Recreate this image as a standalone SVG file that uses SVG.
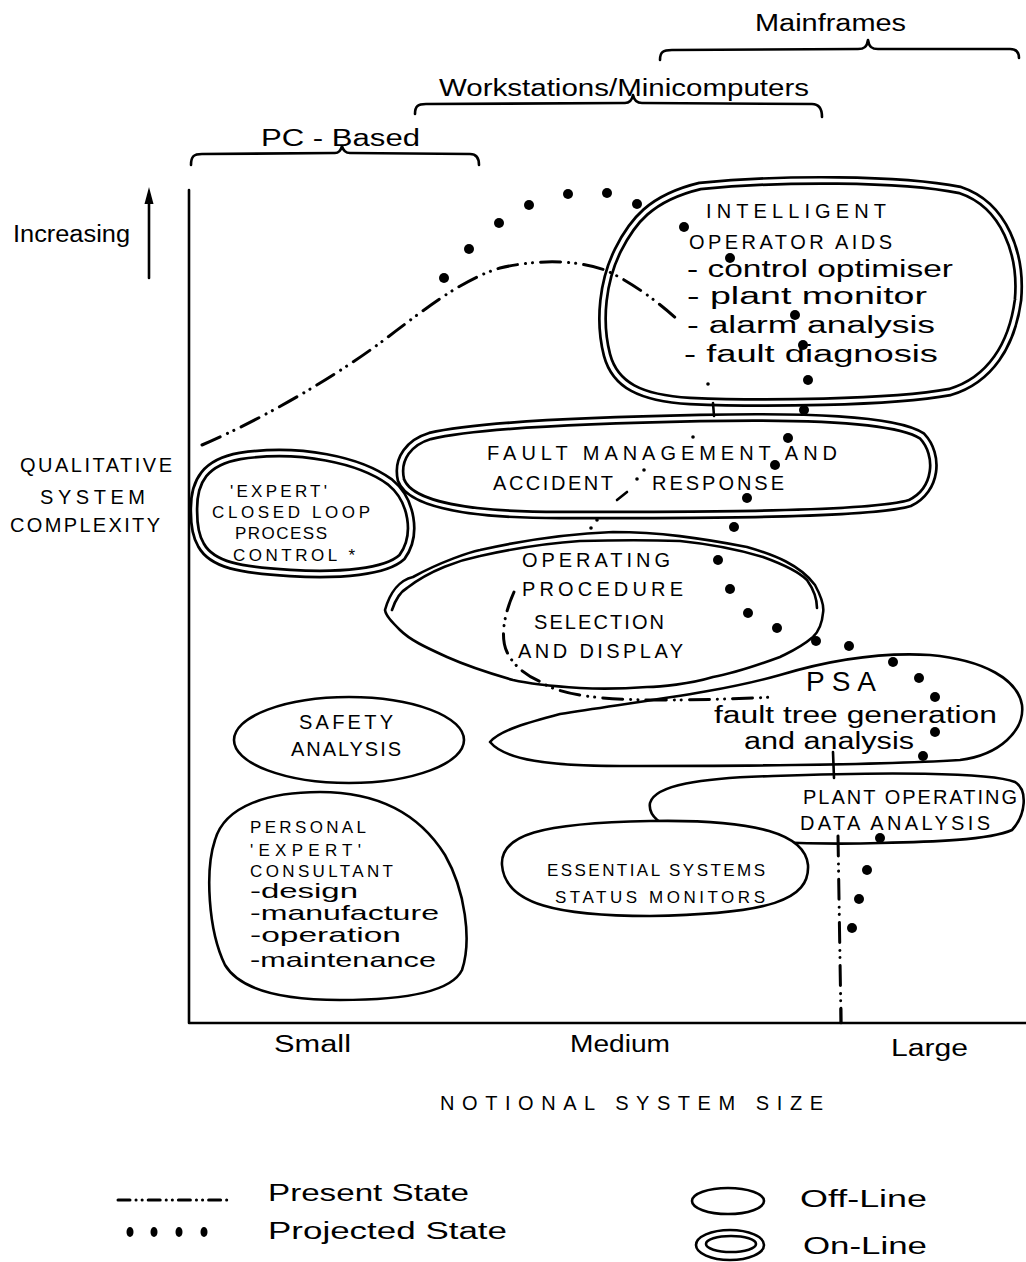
<svg xmlns="http://www.w3.org/2000/svg" xmlns:xlink="http://www.w3.org/1999/xlink" width="1026" height="1262" viewBox="0 0 1026 1262">
<style>
.ln{fill:none;stroke:#000;stroke-width:2.6;stroke-linecap:round;stroke-linejoin:round}
.blob{fill:#fff;stroke:#000;stroke-width:2.6;stroke-linejoin:round}
.dblo{fill:#fff;stroke:#000;stroke-width:9;stroke-linejoin:round}
.dbli{fill:none;stroke:#fff;stroke-width:3.6;stroke-linejoin:round}
.pres{fill:none;stroke:#000;stroke-width:3;stroke-linecap:round;stroke-dasharray:20 8 0.1 7 0.1 8}
.dot{fill:#000}
text{font-family:"Liberation Sans",Arial,sans-serif;fill:#000}
.hand{font-size:23px}
.cap{font-size:20px}
.cs{font-size:17px}
.hs{font-size:21px}
</style>
<defs>
<path id="ioaP" d="M700,186 C780,178 900,178 960,190 C1005,205 1022,255 1018,300 C1012,345 990,380 950,392 C890,403 760,404 690,401 C640,398 615,385 607,355 C598,320 603,280 618,250 C632,222 650,198 700,186 Z"/>
<path id="fmP" d="M430,436 C480,424 600,420 700,418 C800,416 895,418 922,436 C940,455 937,490 910,503 C870,515 700,515 560,515 C470,515 410,505 401,480 C396,458 410,442 430,436 Z"/>
<path id="exP" d="M194,512 C193,480 206,462 240,456 C300,447 360,460 390,482 C412,500 418,535 402,557 C386,572 340,576 290,573 C240,570 212,565 201,545 C195,535 194,522 194,512 Z"/>
</defs>

<g id="axes">
<path class="ln" d="M189,190 L189,1023 L1026,1023"/>
<path class="ln" d="M841,1008 L841,1023"/>
<path class="ln" d="M149,278 L149,200"/>
<path class="dot" d="M149,187 L144.5,204 L153.5,204 Z"/>
<text class="hand" x="13" y="242" textLength="117" lengthAdjust="spacingAndGlyphs">Increasing</text>
<text class="cap" x="20" y="472" textLength="152">QUALITATIVE</text>
<text class="cap" x="40" y="504" textLength="105">SYSTEM</text>
<text class="cap" x="10" y="532" textLength="150">COMPLEXITY</text>
<text class="hand" x="274" y="1052" textLength="77" lengthAdjust="spacingAndGlyphs">Small</text>
<text class="hand" x="570" y="1052" textLength="100" lengthAdjust="spacingAndGlyphs">Medium</text>
<text class="hand" x="891" y="1056" textLength="77" lengthAdjust="spacingAndGlyphs">Large</text>
<text class="cap" x="440" y="1110" textLength="383">NOTIONAL SYSTEM SIZE</text>
</g>

<g id="brackets">
<path class="ln" d="M660,60 C660,52 663,50 672,50 L858,49 C864,49 867,47 868,40 C869,47 872,49 878,49 L1010,49 C1016,49 1019,52 1019,58"/>
<text class="hand" x="755" y="31" textLength="151" lengthAdjust="spacingAndGlyphs">Mainframes</text>
<path class="ln" d="M415,114 C415,106 418,104 426,104 L625,103 C630,103 632,100 633,95 C634,100 637,103 642,103 L812,104 C819,104 822,108 822,117"/>
<text class="hand" x="439" y="96" textLength="370" lengthAdjust="spacingAndGlyphs">Workstations/Minicomputers</text>
<path class="ln" d="M191,165 C191,156 194,154 202,154 L335,153 C339,153 341,150 342,146 C343,150 345,153 350,153 L470,154 C476,154 479,158 479,165"/>
<text class="hand" x="261" y="146" textLength="159" lengthAdjust="spacingAndGlyphs">PC - Based</text>
</g>

<g id="ioa">
<use xlink:href="#ioaP" class="dblo"/>
<use xlink:href="#ioaP" class="dbli"/>
<text class="cap" x="706" y="218" textLength="180">INTELLIGENT</text>
<text class="cap" x="689" y="249" textLength="203">OPERATOR AIDS</text>
<text class="hand" x="687" y="277" textLength="266" lengthAdjust="spacingAndGlyphs">- control optimiser</text>
<text class="hand" x="687" y="304" textLength="240" lengthAdjust="spacingAndGlyphs">- plant monitor</text>
<text class="hand" x="687" y="333" textLength="248" lengthAdjust="spacingAndGlyphs">- alarm analysis</text>
<text class="hand" x="684" y="362" textLength="254" lengthAdjust="spacingAndGlyphs">- fault diagnosis</text>
</g>

<g id="fault-management">
<use xlink:href="#fmP" class="dblo"/>
<use xlink:href="#fmP" class="dbli"/>
<text class="cap" x="487" y="460" textLength="350">FAULT MANAGEMENT AND</text>
<text class="cap" x="493" y="490" textLength="120">ACCIDENT</text>
<text class="cap" x="652" y="490" textLength="132">RESPONSE</text>
</g>

<g id="expert-closed-loop">
<use xlink:href="#exP" class="dblo"/>
<use xlink:href="#exP" class="dbli"/>
<text class="cs" x="230" y="497" textLength="97">'EXPERT'</text>
<text class="cs" x="212" y="518" textLength="158">CLOSED LOOP</text>
<text class="cs" x="235" y="539" textLength="92">PROCESS</text>
<text class="cs" x="233" y="561" textLength="122">CONTROL *</text>
</g>

<g id="operating-procedure">
<path class="blob" d="M385,610 C390,592 400,580 413,577 C440,562 470,552 480,550 C520,541 560,534 613,532 C660,532 700,538 747,547 C775,555 800,565 815,585 C822,598 824,608 823,613 C822,625 818,632 813,637 C800,648 790,652 780,657 C750,668 730,674 713,677 C690,684 660,687 647,687 C620,689 600,689 580,688 C550,686 530,684 513,680 C485,672 465,665 447,657 C425,647 410,640 400,630 C392,622 386,616 385,610 Z"/>
<path class="ln" d="M392,610 C396,598 400,592 407,588 C430,570 460,560 480,556 C520,547 550,543 580,541 C620,540 650,540 680,541 C710,544 740,550 763,557 C785,565 800,573 807,580 C814,590 817,600 817,608"/>
<text class="cap" x="522" y="567" textLength="148">OPERATING</text>
<text class="cap" x="522" y="596" textLength="161">PROCEDURE</text>
<text class="cap" x="534" y="629" textLength="130">SELECTION</text>
<text class="cap" x="518" y="658" textLength="165">AND DISPLAY</text>
</g>

<g id="psa">
<path class="blob" d="M490,742 C500,730 530,722 560,714 C650,700 720,692 780,675 C830,660 880,652 930,655 C985,660 1018,680 1022,705 C1025,730 1000,755 960,760 C880,765 750,766 620,766 C550,766 505,760 490,742 Z"/>
<text x="806" y="691" font-size="28" textLength="70">PSA</text>
<text class="hand" x="714" y="723" textLength="283" lengthAdjust="spacingAndGlyphs">fault tree generation</text>
<text class="hand" x="744" y="749" textLength="170" lengthAdjust="spacingAndGlyphs">and analysis</text>
</g>

<g id="plant-operating-data">
<path class="blob" d="M650,803 C655,785 700,778 773,776 C880,772 990,772 1015,782 C1028,790 1026,815 1012,830 C990,840 930,842 880,843 C820,845 720,842 680,832 C660,825 648,815 650,803 Z"/>
<text class="cap" x="803" y="804" textLength="214">PLANT OPERATING</text>
<text class="cap" x="800" y="830" textLength="190">DATA ANALYSIS</text>
</g>

<g id="safety-analysis">
<ellipse class="blob" cx="349" cy="740" rx="115" ry="43"/>
<text class="cap" x="299" y="729" textLength="94">SAFETY</text>
<text class="cap" x="291" y="756" textLength="110">ANALYSIS</text>
</g>

<g id="personal-expert">
<path class="blob" d="M215,840 C225,805 270,792 320,792 C380,792 420,815 445,855 C465,890 472,940 462,970 C450,995 390,1000 340,1000 C280,1000 240,990 225,965 C208,930 205,870 215,840 Z"/>
<text class="cs" x="250" y="833" textLength="116">PERSONAL</text>
<text class="cs" x="250" y="856" textLength="111">'EXPERT'</text>
<text class="cs" x="250" y="877" textLength="143">CONSULTANT</text>
<text class="hs" x="250" y="898" textLength="108" lengthAdjust="spacingAndGlyphs">-design</text>
<text class="hs" x="250" y="920" textLength="189" lengthAdjust="spacingAndGlyphs">-manufacture</text>
<text class="hs" x="250" y="942" textLength="151" lengthAdjust="spacingAndGlyphs">-operation</text>
<text class="hs" x="250" y="967" textLength="186" lengthAdjust="spacingAndGlyphs">-maintenance</text>
</g>

<g id="essential-systems">
<path class="blob" d="M502,865 C500,835 540,823 650,821 C760,819 805,835 808,865 C810,900 770,914 650,916 C560,916 505,905 502,865 Z"/>
<text class="cs" x="547" y="876" textLength="218">ESSENTIAL SYSTEMS</text>
<text class="cs" x="555" y="903" textLength="210">STATUS MONITORS</text>
</g>

<g id="connectors">
<path class="pres" d="M202,445 C260,420 330,380 380,343 C420,313 460,280 500,268 C530,261 570,258 605,270 C630,281 660,303 680,322"/>
<path class="ln" d="M713,403 L714,416 M617,500 L627,492"/>
<g class="dot">
<circle cx="708" cy="384" r="1.8"/>
<circle cx="693" cy="437" r="1.8"/>
<circle cx="644" cy="470" r="1.8"/>
<circle cx="637" cy="479" r="1.8"/>
<circle cx="597" cy="520" r="1.8"/>
<circle cx="591" cy="528" r="1.8"/>
</g>
<path class="pres" d="M514,592 C506,610 499,635 507,652 C513,665 525,675 541,682 C560,695 600,700 660,700 C720,700 750,698 775,697"/>
<path class="ln" d="M833,752 L834,778"/>
<path class="pres" d="M838,836 L841,1022"/>
<g class="dot">
<circle cx="444" cy="278" r="5"/>
<circle cx="469" cy="249" r="5"/>
<circle cx="499" cy="223" r="5"/>
<circle cx="529" cy="205" r="5"/>
<circle cx="568" cy="194" r="5"/>
<circle cx="607" cy="193" r="5"/>
<circle cx="637" cy="204" r="5"/>
<circle cx="684" cy="227" r="5"/>
<circle cx="730" cy="258" r="5"/>
<circle cx="795" cy="315" r="5"/>
<circle cx="803" cy="345" r="5"/>
<circle cx="808" cy="380" r="5"/>
<circle cx="804" cy="410" r="5"/>
<circle cx="788" cy="438" r="5"/>
<circle cx="775" cy="465" r="5"/>
<circle cx="747" cy="498" r="5"/>
<circle cx="734" cy="527" r="5"/>
<circle cx="718" cy="560" r="5"/>
<circle cx="730" cy="589" r="5"/>
<circle cx="748" cy="613" r="5"/>
<circle cx="777" cy="628" r="5"/>
<circle cx="816" cy="641" r="5"/>
<circle cx="849" cy="646" r="5"/>
<circle cx="893" cy="662" r="5"/>
<circle cx="919" cy="678" r="5"/>
<circle cx="935" cy="697" r="5"/>
<circle cx="935" cy="732" r="5"/>
<circle cx="923" cy="756" r="5"/>
<circle cx="880" cy="838" r="5"/>
<circle cx="867" cy="870" r="5"/>
<circle cx="859" cy="899" r="5"/>
<circle cx="852" cy="928" r="5"/>
</g>
</g>

<g id="legend">
<path class="pres" d="M118,1200 L228,1200" style="stroke-dasharray:12 6 0.1 6 0.1 6"/>
<text class="hand" x="268" y="1201" textLength="201" lengthAdjust="spacingAndGlyphs">Present State</text>
<g class="dot">
<ellipse cx="130" cy="1232" rx="3.5" ry="5"/>
<ellipse cx="154" cy="1232" rx="3.5" ry="5"/>
<ellipse cx="179" cy="1232" rx="3.5" ry="5"/>
<ellipse cx="204" cy="1232" rx="3.5" ry="5"/>
</g>
<text class="hand" x="268" y="1239" textLength="239" lengthAdjust="spacingAndGlyphs">Projected State</text>
<ellipse class="blob" cx="728" cy="1201" rx="36" ry="13"/>
<text class="hand" x="800" y="1207" textLength="127" lengthAdjust="spacingAndGlyphs">Off-Line</text>
<ellipse class="blob" cx="730" cy="1245" rx="34" ry="15"/>
<ellipse class="ln" cx="731" cy="1244" rx="25" ry="8"/>
<text class="hand" x="803" y="1254" textLength="124" lengthAdjust="spacingAndGlyphs">On-Line</text>
</g>
</svg>
